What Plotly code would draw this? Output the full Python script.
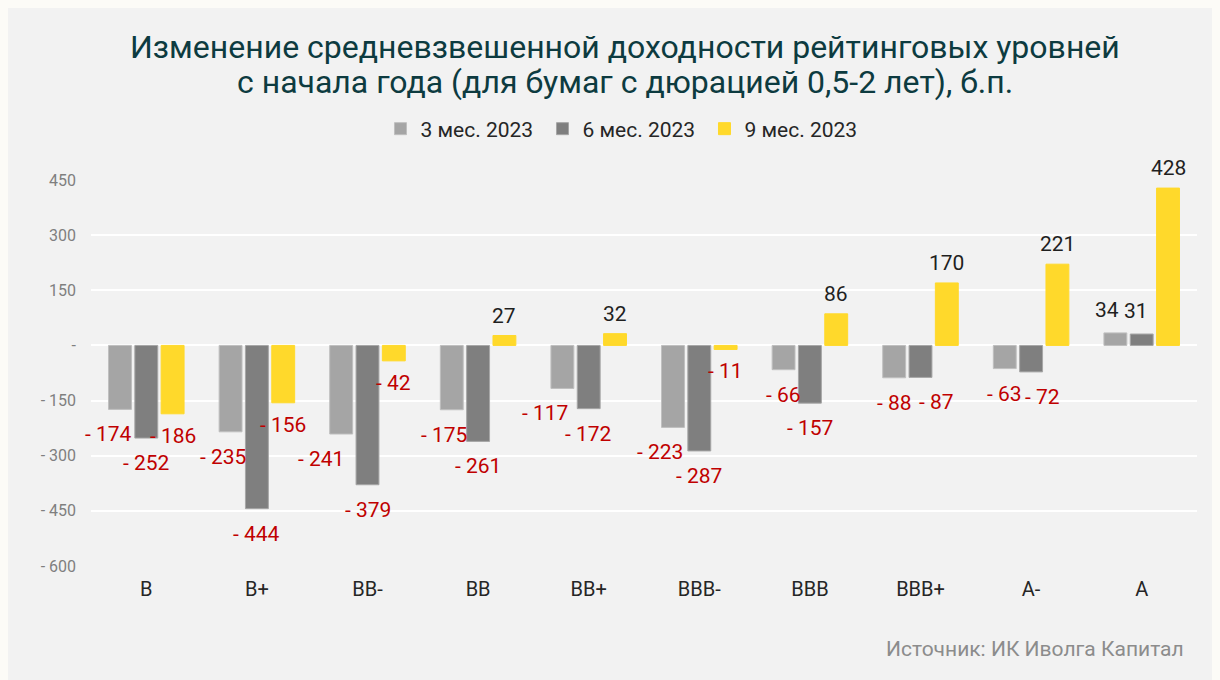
import plotly.graph_objects as go

categories = ["B", "B+", "BB-", "BB", "BB+", "BBB-", "BBB", "BBB+", "A-", "A"]
series_names = ["3 мес. 2023", "6 мес. 2023", "9 мес. 2023"]
q1 = [-174, -235, -241, -175, -117, -223, -66, -88, -63, 34]
h1 = [-252, -444, -379, -261, -172, -287, -157, -87, -72, 31]
m9 = [-186, -156, -42, 27, 32, -11, 86, 170, 221, 428]
series_values = [q1, h1, m9]

tick_vals = [-600, -450, -300, -150, 0, 150, 300, 450]
tick_text = ["- 600", "- 450", "- 300", "- 150", "-", "150", "300", "450"]

title_lines = ["Изменение средневзвешенной доходности рейтинговых уровней",
               "с начала года (для бумаг с дюрацией 0,5-2 лет), б.п."]
source_text = "Источник: ИК Иволга Капитал"

colors = ["#A5A5A5", "#7F7F7F", "#FFD92B"]
line_colors = ["#BFBFBF", "#A6A6A6", "#FFD92B"]

BARGAP = 0.286
slot = (1 - BARGAP) / 3

W, H = 1220, 680
ML, MR, MT, MB = 83, 31, 172, 122
PW, PH = W - ML - MR, H - MT - MB

def px_x(px):  # figure pixel -> paper x
    return (px - ML) / PW

def px_y(py):  # figure pixel (from top) -> paper y
    return (H - MB - py) / PH

fig = go.Figure()
for s, (name, vals) in enumerate(zip(series_names, series_values)):
    fig.add_trace(go.Bar(
        x=categories, y=vals, name=name,
        marker=dict(color=colors[s], line=dict(color=line_colors[s], width=1)),
        hoverinfo="x+y",
    ))

def fmt(v):
    return f"- {abs(v)}" if v < 0 else f"{v}"

# small horizontal nudges that the original applied to avoid label overlap
nudge = {(0, 0): -11, (1, 0): -8, (2, 0): -20, (3, 0): -8, (4, 0): -17,
         (5, 0): -13, (7, 1): 16, (8, 1): 11, (9, 0): -8, (9, 1): -6}

annotations = []
for s, vals in enumerate(series_values):
    for i, v in enumerate(vals):
        gap = 22 if s == 2 else 25
        annotations.append(dict(
            x=i + (s - 1) * slot, y=v, xref="x", yref="y",
            text=fmt(v), showarrow=False,
            xshift=nudge.get((i, s), 0),
            yshift=-gap if v < 0 else gap - 2,
            font=dict(family="Roboto", size=21,
                      color="#C00000" if v < 0 else "#1F1F1F"),
        ))

for line, cy in zip(title_lines, [39, 74]):
    annotations.append(dict(
        text=line, xref="paper", yref="paper", x=px_x(617), y=px_y(cy),
        xanchor="center", yanchor="middle", showarrow=False,
        font=dict(family="Roboto", size=32, color="#0D3B40"),
    ))

annotations.append(dict(
    text=source_text, xref="paper", yref="paper",
    x=px_x(1178), y=px_y(641), xanchor="right", yanchor="middle",
    showarrow=False,
    font=dict(family="Roboto", size=21, color="#8C8C8C"),
))

fig.update_layout(
    width=W, height=H,
    paper_bgcolor="#F2F2F2", plot_bgcolor="#F2F2F2",
    margin=dict(l=ML, r=MR, t=MT, b=MB, autoexpand=False),
    barmode="group", bargap=BARGAP, bargroupgap=0.13,
    legend=dict(
        orientation="h", xref="container", x=0.5045, xanchor="center",
        yref="container", y=1 - 121 / 680, yanchor="middle",
        font=dict(family="Roboto", size=21, color="#262626"),
        bgcolor="rgba(0,0,0,0)", itemwidth=30, traceorder="normal",
        entrywidth=117, entrywidthmode="pixels",
    ),
    font=dict(family="Roboto"),
    annotations=annotations,
    showlegend=True,
)
fig.update_yaxes(
    range=[-600, 450], tickvals=tick_vals, ticktext=tick_text,
    showgrid=True, gridcolor="#FFFFFF", gridwidth=1.5, zeroline=False,
    tickfont=dict(family="Roboto", size=16, color="#7F7F7F"),
    ticks="", ticklabelstandoff=14, showline=False,
)
fig.update_xaxes(
    range=[-0.5, len(categories) - 0.5],
    showgrid=False, zeroline=False, showline=False, ticks="",
    tickfont=dict(family="Roboto", size=20, color="#262626"),
    ticklabelstandoff=9,
)

fig.write_html("out.html",
               post_script="document.body.style.background='#FCFBF7';")
